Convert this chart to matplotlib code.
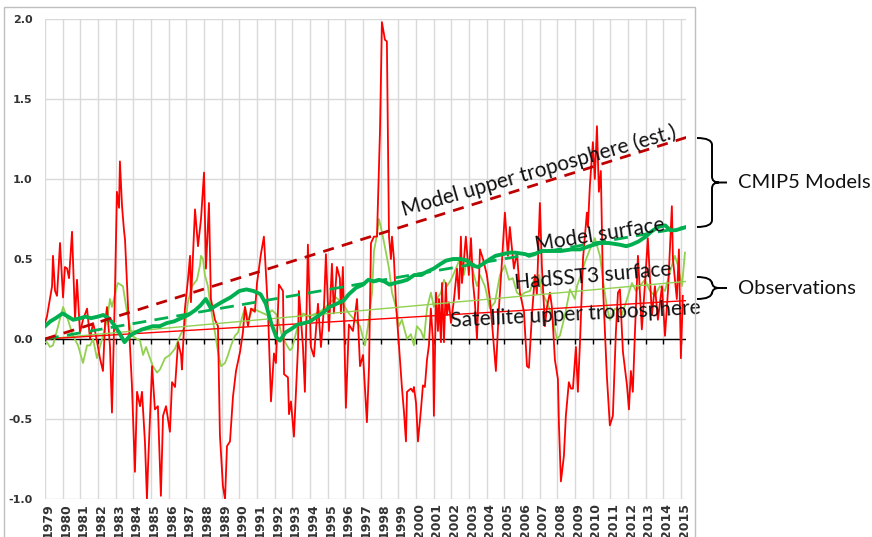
import numpy as np
import matplotlib.pyplot as plt
import matplotlib.markers as mmarkers
import matplotlib.transforms as mtransforms
from matplotlib.path import Path
from matplotlib.patches import PathPatch, Rectangle

plt.rcParams['font.family'] = ['Lato', 'DejaVu Sans']

# ---- data (time as years after Jan 1979) ----
years = list(range(1979, 2016))

sat_t = [0.00, 0.11, 0.40, 0.45, 0.57, 0.68, 0.85, 1.02, 1.13, 1.25,
         1.36, 1.53, 1.70, 1.81, 1.98, 2.15, 2.38, 2.55, 2.72, 2.83,
         3.00, 3.11, 3.28, 3.40, 3.51, 3.68, 3.79, 3.96, 4.07, 4.19,
         4.24, 4.36, 4.47, 4.53, 4.70, 4.92, 5.09, 5.21, 5.38, 5.49,
         5.66, 5.77, 5.83, 6.06, 6.22, 6.39, 6.56, 6.68, 6.85, 7.07,
         7.19, 7.36, 7.53, 7.70, 7.75, 7.92, 8.09, 8.21, 8.26, 8.38,
         8.49, 8.66, 8.83, 9.00, 9.11, 9.28, 9.39, 9.62, 9.79, 9.90,
         10.07, 10.19, 10.30, 10.47, 10.64, 10.81, 11.04, 11.20, 11.32, 11.49,
         11.66, 11.88, 12.00, 12.22, 12.39, 12.62, 12.79, 12.96, 13.07, 13.24,
         13.47, 13.53, 13.75, 13.81, 13.92, 14.09, 14.32, 14.37, 14.60, 14.71,
         14.88, 15.05, 15.22, 15.45, 15.62, 15.79, 15.90, 16.07, 16.24, 16.35,
         16.52, 16.69, 16.75, 16.86, 17.03, 17.20, 17.43, 17.66, 17.83, 18.00,
         18.22, 18.34, 18.45, 18.62, 18.79, 18.96, 19.07, 19.24, 19.35, 19.47,
         19.58, 19.64, 19.75, 19.86, 20.03, 20.15, 20.20, 20.32, 20.43, 20.49,
         20.71, 20.83, 20.88, 21.00, 21.11, 21.28, 21.39, 21.50, 21.62, 21.73,
         21.84, 21.96, 22.01, 22.13, 22.24, 22.30, 22.41, 22.47, 22.58, 22.69,
         22.75, 22.86, 22.98, 23.15, 23.32, 23.43, 23.54, 23.60, 23.82, 23.99,
         24.11, 24.22, 24.33, 24.45, 24.62, 24.79, 25.01, 25.18, 25.30, 25.52,
         25.69, 25.86, 26.03, 26.20, 26.31, 26.54, 26.71, 26.88, 27.11, 27.28,
         27.39, 27.56, 27.73, 27.84, 28.01, 28.12, 28.30, 28.41, 28.58, 28.69,
         28.86, 29.03, 29.09, 29.20, 29.37, 29.48, 29.65, 29.77, 29.88, 30.05,
         30.16, 30.28, 30.45, 30.67, 30.73, 30.84, 31.01, 31.12, 31.24, 31.35,
         31.46, 31.58, 31.80, 31.97, 32.14, 32.31, 32.43, 32.54, 32.71, 32.94,
         33.05, 33.16, 33.27, 33.39, 33.56, 33.78, 33.95, 34.12, 34.35, 34.52,
         34.69, 34.92, 35.09, 35.26, 35.48, 35.54, 35.76, 35.88, 35.99, 36.10]
sat_v = [0.10, 0.14, 0.33, 0.52, 0.30, 0.27, 0.60, 0.26, 0.45, 0.44,
         0.38, 0.67, 0.12, 0.37, 0.04, 0.12, 0.19, 0.00, 0.10, 0.05,
         -0.05, -0.12, -0.20, 0.10, 0.20, -0.05, -0.46, 0.30, 0.92, 0.82,
         1.11, 0.83, 0.68, 0.62, 0.20, -0.29, -0.83, -0.33, -0.42, -0.33,
         -0.65, -1.00, -0.80, -0.17, -0.44, -0.42, -0.98, -0.48, -0.42, -0.58,
         -0.27, -0.30, -0.02, -0.10, -0.19, 0.19, 0.37, 0.52, 0.23, 0.54,
         0.81, 0.58, 0.75, 1.04, 0.44, 0.85, 0.25, 0.12, 0.08, -0.60,
         -0.92, -1.00, -0.67, -0.64, -0.36, -0.20, -0.08, 0.04, 0.20, 0.08,
         0.19, 0.17, 0.35, 0.53, 0.64, 0.18, -0.39, -0.09, -0.15, 0.34,
         0.30, -0.22, -0.24, -0.47, -0.39, -0.61, -0.05, 0.30, -0.05, -0.33,
         0.59, -0.05, -0.11, 0.22, -0.05, 0.20, 0.53, 0.05, 0.47, 0.16,
         0.45, 0.38, 0.16, 0.45, -0.43, 0.09, 0.05, 0.25, -0.17, -0.10,
         -0.52, -0.17, 0.60, 0.64, 0.64, 1.30, 1.98, 1.87, 1.86, 0.64,
         0.50, 0.64, 0.50, 0.23, -0.04, -0.23, -0.30, -0.46, -0.64, -0.33,
         -0.31, -0.33, -0.30, -0.40, -0.64, -0.44, -0.29, -0.30, -0.13, -0.04,
         0.19, -0.02, -0.48, 0.29, 0.05, 0.25, -0.02, 0.35, -0.02, 0.35,
         0.15, 0.23, 0.10, 0.25, 0.44, 0.25, 0.64, 0.35, 0.64, 0.40,
         0.63, 0.36, 0.23, 0.00, 0.56, 0.50, 0.40, 0.25, 0.10, -0.20,
         0.19, 0.48, 0.79, 0.52, 0.70, 0.44, 0.54, 0.29, 0.17, -0.17,
         -0.18, 0.15, 0.40, 0.28, 0.85, 0.46, 0.08, 0.20, 0.29, 0.20,
         -0.13, -0.25, -0.54, -0.89, -0.73, -0.48, -0.27, -0.31, -0.31, -0.05,
         -0.33, -0.02, 0.50, 0.79, 0.70, 0.96, 1.23, 1.00, 1.33, 0.92,
         1.05, 0.33, -0.23, -0.54, -0.48, 0.04, 0.29, 0.31, -0.08, -0.29,
         -0.44, -0.20, -0.33, 0.04, 0.52, 0.06, 0.33, 0.63, 0.15, 0.33,
         0.12, 0.33, 0.02, 0.30, 0.83, 0.50, 0.25, 0.56, -0.12, 0.27]

sst_t = [0.00, 0.11, 0.28, 0.45, 0.74, 1.02, 1.30, 1.58, 1.87, 2.15,
         2.38, 2.55, 2.72, 2.94, 3.23, 3.51, 3.68, 3.79, 4.07, 4.13,
         4.41, 4.64, 4.92, 5.21, 5.38, 5.55, 5.72, 5.94, 6.11, 6.34,
         6.51, 6.79, 7.07, 7.36, 7.64, 7.92, 8.09, 8.32, 8.60, 8.77,
         8.83, 8.94, 9.05, 9.22, 9.39, 9.62, 9.79, 9.96, 10.19, 10.36,
         10.53, 10.75, 10.92, 11.32, 11.49, 11.77, 12.17, 12.56, 12.85, 13.13,
         13.41, 13.69, 13.86, 13.98, 14.26, 14.60, 14.94, 15.34, 15.68, 16.07,
         16.47, 16.86, 17.20, 17.60, 17.83, 18.11, 18.28, 18.51, 18.62, 18.79,
         18.90, 19.07, 19.30, 19.47, 19.64, 19.86, 20.03, 20.20, 20.49, 20.71,
         20.88, 21.05, 21.28, 21.45, 21.62, 21.84, 22.01, 22.18, 22.41, 22.58,
         22.75, 22.98, 23.26, 23.54, 23.71, 23.88, 24.13, 24.45, 24.62, 24.90,
         25.18, 25.47, 25.75, 26.03, 26.26, 26.48, 26.71, 26.94, 27.16, 27.45,
         27.67, 27.96, 28.12, 28.41, 28.69, 28.97, 29.14, 29.43, 29.71, 29.99,
         30.11, 30.33, 30.56, 30.84, 31.12, 31.41, 31.58, 31.80, 31.97, 32.26,
         32.48, 32.65, 32.94, 33.22, 33.45, 33.67, 33.95, 34.24, 34.52, 34.80,
         35.09, 35.37, 35.65, 35.82, 36.05, 36.22]
sst_v = [-0.02, -0.02, -0.05, -0.04, 0.08, 0.20, 0.12, 0.02, -0.04, -0.15,
         -0.04, -0.04, 0.00, -0.12, 0.00, 0.12, 0.25, 0.20, 0.33, 0.35,
         0.33, 0.17, 0.02, 0.00, -0.01, -0.10, -0.05, -0.12, -0.17, -0.21,
         -0.19, -0.12, -0.10, -0.06, 0.02, 0.08, 0.23, 0.33, 0.37, 0.46,
         0.52, 0.50, 0.40, 0.33, 0.19, 0.04, -0.08, -0.17, -0.15, -0.10,
         -0.04, 0.02, 0.04, 0.20, 0.12, 0.19, 0.17, 0.15, 0.18, 0.15,
         0.02, -0.04, -0.07, -0.06, 0.06, 0.16, 0.14, 0.16, 0.18, 0.22,
         0.26, 0.22, 0.16, 0.11, 0.08, -0.04, 0.08, 0.29, 0.55, 0.65,
         0.75, 0.67, 0.54, 0.44, 0.29, 0.20, 0.08, 0.12, 0.00, 0.03,
         -0.04, 0.08, 0.05, 0.00, 0.19, 0.29, 0.20, 0.25, 0.29, 0.37,
         0.33, 0.37, 0.44, 0.52, 0.40, 0.50, 0.46, 0.33, 0.40, 0.33,
         0.19, 0.23, 0.40, 0.46, 0.37, 0.38, 0.29, 0.27, 0.29, 0.30,
         0.37, 0.40, 0.29, 0.23, 0.15, 0.00, 0.02, 0.15, 0.31, 0.25,
         0.33, 0.40, 0.48, 0.56, 0.63, 0.52, 0.37, 0.20, 0.12, 0.19,
         0.18, 0.15, 0.25, 0.35, 0.30, 0.33, 0.37, 0.30, 0.27, 0.33,
         0.30, 0.42, 0.52, 0.46, 0.33, 0.54]

msurf_t = [0.0, 0.3, 0.6, 1.0, 1.3, 1.6, 2.0, 2.3, 2.6, 3.0,
           3.3, 3.6, 3.9, 4.2, 4.5, 4.8, 5.1, 5.5, 5.8, 6.1,
           6.5, 6.9, 7.3, 7.7, 8.1, 8.5, 8.8, 9.1, 9.4, 9.7,
           10.0, 10.5, 11.0, 11.4, 11.8, 12.2, 12.5, 12.8, 13.1, 13.3,
           13.6, 13.9, 14.3, 14.7, 15.0, 15.4, 15.8, 16.1, 16.5, 16.9,
           17.2, 17.6, 18.0, 18.3, 18.6, 18.9, 19.2, 19.5, 19.8, 20.2,
           20.5, 20.9, 21.3, 21.6, 22.0, 22.4, 22.7, 23.1, 23.5, 23.9,
           24.2, 24.5, 24.8, 25.2, 25.5, 25.9, 26.3, 26.6, 27.2, 27.4,
           27.7, 28.1, 28.7, 29.2, 29.8, 30.3, 30.8, 31.4, 31.9, 32.5,
           32.9, 33.2, 33.6, 34.0, 34.3, 34.7, 35.1, 35.4, 35.7, 36.0,
           36.3]
msurf_v = [0.08, 0.11, 0.13, 0.16, 0.14, 0.12, 0.13, 0.14, 0.13, 0.14,
           0.15, 0.13, 0.09, 0.04, -0.02, 0.02, 0.04, 0.06, 0.07, 0.08,
           0.08, 0.10, 0.11, 0.13, 0.15, 0.18, 0.21, 0.25, 0.19, 0.21,
           0.23, 0.26, 0.30, 0.31, 0.30, 0.28, 0.22, 0.10, 0.01, -0.01,
           0.04, 0.06, 0.09, 0.10, 0.11, 0.14, 0.17, 0.20, 0.22, 0.24,
           0.28, 0.32, 0.34, 0.37, 0.36, 0.37, 0.36, 0.34, 0.35, 0.36,
           0.37, 0.40, 0.40, 0.42, 0.44, 0.47, 0.49, 0.50, 0.50, 0.49,
           0.46, 0.45, 0.47, 0.50, 0.52, 0.53, 0.54, 0.54, 0.53, 0.52,
           0.53, 0.55, 0.55, 0.55, 0.56, 0.56, 0.58, 0.60, 0.60, 0.59,
           0.58, 0.59, 0.61, 0.64, 0.67, 0.70, 0.71, 0.68, 0.68, 0.69,
           0.70]

# linear trends (start, end)
trend_t = [0.0, 36.3]
trend_uptrop = [0.0, 1.26]
trend_msurf = [0.0, 0.70]
trend_sst = [0.0, 0.36]
trend_sat = [0.0, 0.24]

t0 = 1979
sat_x = t0 + np.array(sat_t)
sst_x = t0 + np.array(sst_t)
msurf_x = t0 + np.array(msurf_t)
trend_x = t0 + np.array(trend_t)

W, H = 872, 537
fig = plt.figure(figsize=(W / 100, H / 100), dpi=100)
ax = fig.add_axes([45 / W, 1 - 499 / H, 641 / W, 480 / H])

RED = '#FF0000'
LGREEN = '#92D050'
GREEN = '#00B050'
DRED = '#C00000'

ax.plot(sst_x, sst_v, color=LGREEN, lw=1.3, zorder=3)
ax.plot(sat_x, sat_v, color=RED, lw=1.3, zorder=4)
ax.plot(trend_x, trend_sst, color=LGREEN, lw=1.0, zorder=5)
ax.plot(trend_x, trend_sat, color=RED, lw=1.0, zorder=5)
ax.plot(msurf_x, msurf_v, color=GREEN, lw=2.8, zorder=6)
ax.plot(trend_x, trend_msurf, color=GREEN, lw=2.0, ls=(0, (5, 3)), zorder=7)
ax.plot(trend_x, trend_uptrop, color=DRED, lw=2.0, ls=(0, (4, 3)), zorder=7)

# zero axis with small downward ticks at each year
ax.axhline(0, color='black', lw=1.0, zorder=2)
ax.plot(years, np.zeros(len(years)), ls='none', marker=mmarkers.TICKDOWN,
        ms=3.5, mew=1.0, color='black', zorder=2)

tick_font = dict(family='DejaVu Sans', weight='bold')
ax.set_xlim(1979.0, 2015.28)
ax.set_ylim(-1.0, 2.0)
ax.set_xticks(years)
ax.set_xticklabels([str(y) for y in years], rotation=90, fontsize=9,
                   color='#333333', **tick_font)
ax.set_yticks(np.arange(-1.0, 2.01, 0.5))
ax.set_yticklabels(['%.1f' % v for v in np.arange(-1.0, 2.01, 0.5)],
                   fontsize=8, color='#333333', **tick_font)
ax.tick_params(axis='both', length=0)
ax.tick_params(axis='x', pad=3)
ax.tick_params(axis='y', pad=9)
offset = mtransforms.ScaledTranslation(3 / 100, 0, fig.dpi_scale_trans)
for lab in ax.get_xticklabels():
    lab.set_transform(lab.get_transform() + offset)
ax.grid(True, color='#D9D9D9', lw=1.0, zorder=0)
ax.set_axisbelow(True)
for s in ax.spines.values():
    s.set_visible(False)

# line labels
txt = dict(fontsize=15, color='#111111', rotation_mode='anchor',
           ha='left', va='baseline', zorder=8)
ax.text(1999.32, 0.77, 'Model upper troposphere (est.)', rotation=16, **txt)
ax.text(2006.79, 0.55, 'Model surface', rotation=9, **txt)
ax.text(2005.60, 0.31, 'HadSST3 surface', rotation=5, **txt)
ax.text(2001.98, 0.075, 'Satellite upper troposphere', rotation=3, **txt)

# braces and group labels (pixel coordinates, y down)
pix = mtransforms.Affine2D().scale(1 / W, -1 / H).translate(0, 1) + fig.transFigure


def brace(top, bot):
    mid = (top + bot) / 2
    verts = [(697, top), (712, top), (712, top + 7), (712, mid - 6),
             (712, mid), (719, mid), (712, mid), (712, mid + 6),
             (712, bot - 7), (712, bot), (697, bot),
             (719, mid), (727, mid)]
    codes = [Path.MOVETO, Path.CURVE3, Path.CURVE3, Path.LINETO,
             Path.CURVE3, Path.CURVE3, Path.CURVE3, Path.CURVE3,
             Path.LINETO, Path.CURVE3, Path.CURVE3,
             Path.MOVETO, Path.LINETO]
    fig.add_artist(PathPatch(Path(verts, codes), transform=pix, fill=False,
                             edgecolor='black', lw=1.4))
    return mid


m1 = brace(138, 227)
m2 = brace(277, 299)
fig.text(738 / W, 1 - m1 / H, 'CMIP5 Models', fontsize=14.5, va='center',
         ha='left', color='#111111')
fig.text(738 / W, 1 - m2 / H, 'Observations', fontsize=14.5, va='center',
         ha='left', color='#111111')

# chart-area border
fig.add_artist(Rectangle((4, 7), 691, 540, transform=pix, fill=False,
                         edgecolor='#BFBFBF', lw=1.0))

fig.savefig('out.png', dpi=100)
